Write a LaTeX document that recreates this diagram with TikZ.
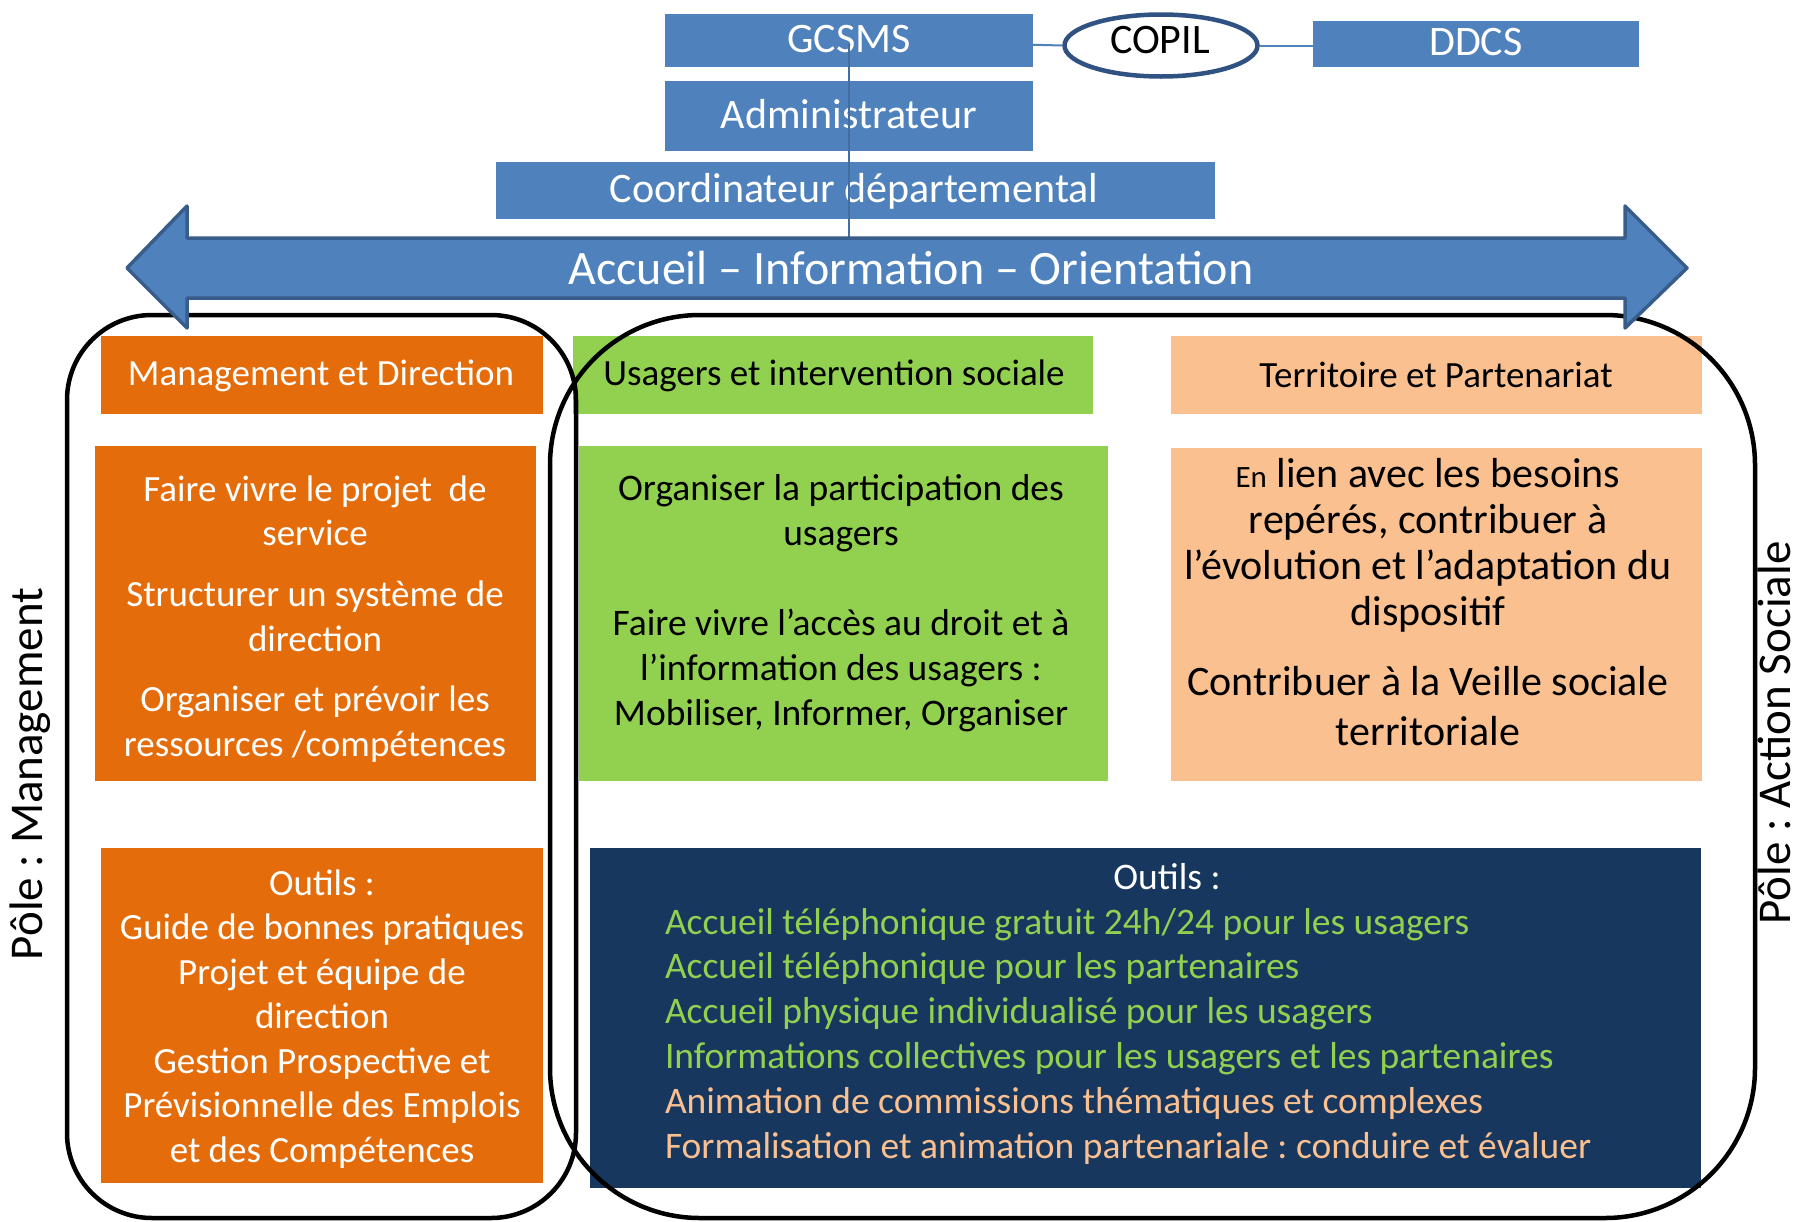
\documentclass[tikz,border=0pt]{standalone}
\usepackage{fontspec}
\setmainfont{Carlito}
\usetikzlibrary{shapes.geometric}
\definecolor{cblue}{HTML}{4F81BD}
\definecolor{cblueedge}{HTML}{385D8A}
\definecolor{copiledge}{HTML}{2F5283}
\definecolor{corange}{HTML}{E46C0A}
\definecolor{cgreen}{HTML}{92D050}
\definecolor{cpeach}{HTML}{FAC090}
\definecolor{cnavy}{HTML}{17375E}
\frenchspacing
\begin{document}
\begin{tikzpicture}[x=1pt,y=-1pt,
  boxstyle/.style={rectangle, draw=none, inner sep=0pt, outer sep=0pt},
  bluebox/.style={boxstyle, fill=cblue},
  orangebox/.style={boxstyle, fill=corange},
  greenbox/.style={boxstyle, fill=cgreen},
  peachbox/.style={boxstyle, fill=cpeach},
  navybox/.style={boxstyle, fill=cnavy},
  txt/.style={inner sep=0pt, outer sep=0pt, align=center, anchor=base},
  toptxt/.style={txt, text=white, font=\fontsize{42}{50}\selectfont},
  headtxt/.style={txt, font=\fontsize{37}{44.5}\selectfont},
  bodytxt/.style={txt, font=\fontsize{37}{44.5}\selectfont},
  pole/.style={draw=black, line width=4.5pt, rectangle, inner sep=0pt, fill=none},
  sidelabel/.style={txt, rotate=90, font=\fontsize{47}{50}\selectfont},
  conn/.style={draw=cblue, line width=2pt},
  vconn/.style={draw=cblue!85!black, line width=1.5pt}
]
\useasboundingbox[fill=white] (0,0) rectangle (1804,1221);

% ---------- top blue boxes ----------
\node[bluebox, minimum width=368, minimum height=53] (gcsms) at (849,40.5) {};
\node[bluebox, minimum width=368, minimum height=70] (admin) at (849,116) {};
\node[bluebox, minimum width=719, minimum height=57] (coord) at (855.5,190.5) {};
\node[bluebox, minimum width=326, minimum height=46] (ddcs) at (1476,44) {};
\node[ellipse, draw=copiledge, line width=4.5pt, fill=white, minimum width=193, minimum height=62, inner sep=0pt] (copil) at (1161,45.5) {};

\draw[conn] (gcsms.east) ++(-30,3.5) -- (copil.west);
\draw[conn] (copil.east) -- (ddcs.west |- copil.east);

\node[toptxt] (gcsmsT) at (849,52) {GCSMS};
\node[toptxt] (adminT) at (849,128) {Administrateur};
\node[toptxt] (coordT) at (854,202) {Coordinateur départemental};
\node[toptxt] (ddcsT) at (1476,55) {DDCS};
\node[toptxt, text=black] (copilT) at (1160,53) {COPIL};

% ---------- middle boxes ----------
\node[orangebox, minimum width=442, minimum height=78] (mgmt) at (322,375) {};
\node[greenbox, minimum width=520, minimum height=78] (usag) at (833,375) {};
\node[peachbox, minimum width=531, minimum height=78] (terr) at (1436.5,375) {};

\node[orangebox, minimum width=441, minimum height=335] (mgmt2) at (315.5,613.5) {};
\node[greenbox, minimum width=529, minimum height=335] (usag2) at (843.5,613.5) {};
\node[peachbox, minimum width=531, minimum height=333] (terr2) at (1436.5,614.5) {};

\node[orangebox, minimum width=442, minimum height=335] (mgmt3) at (322,1015.5) {};
\node[navybox, minimum width=1111, minimum height=340] (tools) at (1145.5,1018) {};

% header texts
\node[headtxt, text=white] (mgmtT) at (321,385) {Management et Direction};
\node[headtxt, text=black] (usagT) at (834,385) {Usagers et intervention sociale};
\node[headtxt, text=black] (terrT) at (1436,387) {Territoire et Partenariat};

% body texts (anchor = baseline of the last line)
\node[bodytxt, text=white] (mgmt2T) at (315,756)
 {Faire vivre le projet \ de\\ service\\[16.5pt]
  Structurer un système de\\ direction\\[16pt]
  Organiser et prévoir les\\ ressources /compétences};
\node[bodytxt, text=black, font=\fontsize{37.5}{45}\selectfont] (usag2T) at (841,725)
 {Organiser la participation des\\ usagers\\[45pt]
  Faire vivre l’accès au droit et à\\ l’information des usagers :\\ Mobiliser, Informer, Organiser};
\node[bodytxt, text=black, font=\fontsize{42}{45.7}\selectfont] (terr2T) at (1428,745)
 {{\fontsize{31}{45.7}\selectfont En} lien avec les besoins\\ repérés, contribuer à\\ l’évolution et l’adaptation du\\ dispositif\\[24.3pt]
  Contribuer à la Veille sociale\\[4.3pt] territoriale};
\node[bodytxt, text=white] (mgmt3T) at (322,1162)
 {Outils :\\ Guide de bonnes pratiques\\ Projet et équipe de\\ direction\\ Gestion Prospective et\\ Prévisionnelle des Emplois\\ et des Compétences};

\node[bodytxt, text=white, font=\fontsize{37.5}{44.8}\selectfont] (toolsT) at (1167,889) {Outils :};
\node[txt, anchor=base west, align=left, font=\fontsize{37.5}{44.8}\selectfont] (toolsL) at (665,1158)
 {\textcolor{cgreen}{Accueil téléphonique gratuit 24h/24 pour les usagers}\\
  \textcolor{cgreen}{Accueil téléphonique pour les partenaires}\\
  \textcolor{cgreen}{Accueil physique individualisé pour les usagers}\\
  \textcolor{cgreen}{Informations collectives pour les usagers et les partenaires}\\
  \textcolor{cpeach}{Animation de commissions thématiques et complexes}\\
  \textcolor{cpeach}{Formalisation et animation partenariale : conduire et évaluer}};

% ---------- pole frames ----------
\node[pole, rounded corners=85pt, minimum width=509, minimum height=903] (poleM) at (321.5,766.5) {};
\node[pole, rounded corners=150pt, minimum width=1205, minimum height=903] (poleA) at (1152.5,766.5) {};

\node[sidelabel] (poleMT) at (42,774) {Pôle : Management};
\node[sidelabel] (poleAT) at (1790,733) {Pôle : Action Sociale};

% ---------- vertical connector and big arrow ----------
\coordinate (arrowtop) at (849,240);
\draw[vconn] (gcsms.center) ++(0,3) -- (arrowtop);

\draw[fill=cblue, draw=cblueedge, line width=3.5pt, line join=round]
  (127,268) -- (187,206) -- (187,238) -- (1625,238) -- (1625,206) -- (1687,268)
  -- (1625,328) -- (1625,298) -- (187,298) -- (187,328) -- cycle;
\node[txt, text=white, font=\fontsize{48}{52}\selectfont] (aio) at (911,284)
 {Accueil – Information – Orientation};
\end{tikzpicture}
\end{document}
